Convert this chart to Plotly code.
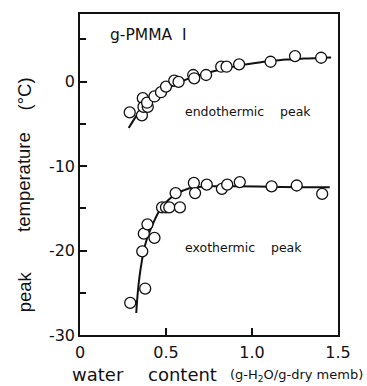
import plotly.graph_objects as go

# endothermic peak data
endo_x = [0.289, 0.365, 0.36, 0.369, 0.394, 0.39, 0.433, 0.471, 0.50, 0.548, 0.573,
          0.658, 0.664, 0.733, 0.821, 0.852, 0.925, 1.108, 1.25, 1.402]
endo_y = [-3.65, -1.96, -4.0, -3.0, -3.0, -2.5, -1.76, -1.26, -0.59, 0.12, -0.04,
          0.78, 0.39, 0.78, 1.76, 1.76, 2.04, 2.35, 3.02, 2.82]
endo_fit_x = [0.283, 0.32, 0.35, 0.40, 0.45, 0.50, 0.60, 0.70, 0.80, 0.90, 1.00, 1.10, 1.20, 1.30, 1.46]
endo_fit_y = [-5.5, -4.3, -3.4, -2.3, -1.5, -0.9, 0.1, 0.8, 1.35, 1.8, 2.15, 2.4, 2.6, 2.72, 2.86]

# exothermic peak data
exo_x = [0.292, 0.362, 0.371, 0.392, 0.433, 0.379, 0.477, 0.50, 0.519, 0.581, 0.556,
         0.662, 0.669, 0.737, 0.825, 0.856, 0.929, 1.114, 1.26, 1.408]
exo_y = [-26.2, -20.1, -18.0, -16.9, -18.5, -24.5, -14.9, -14.9, -14.9, -14.9, -13.2,
         -12.0, -13.2, -12.2, -12.7, -12.2, -11.9, -12.4, -12.3, -13.3]
exo_fit_x = [0.327, 0.335, 0.346, 0.36, 0.375, 0.40, 0.423, 0.45, 0.481, 0.52, 0.558, 0.60, 0.654, 0.75, 0.90, 1.10, 1.30, 1.452]
exo_fit_y = [-27.4, -25.2, -23.1, -21.2, -19.6, -18.0, -16.9, -15.7, -14.7, -13.9, -13.3, -12.9, -12.55, -12.4, -12.4, -12.45, -12.5, -12.5]

x_ticks = [0, 0.5, 1.0, 1.5]
x_labels = ["0", "0.5", "1.0", "1.5"]
y_ticks = [0, -10, -20, -30]
y_labels = ["0", "-10", "-20", "-30"]

WIDE = "DejaVu Sans"
NARROW = "Liberation Sans"
ink = "#111111"

fig = go.Figure()
for fx, fy in [(endo_fit_x, endo_fit_y), (exo_fit_x, exo_fit_y)]:
    fig.add_trace(go.Scatter(x=fx, y=fy, mode="lines", line=dict(color=ink, width=2, shape="spline"),
                             showlegend=False, hoverinfo="skip"))
for px, py in [(endo_x, endo_y), (exo_x, exo_y)]:
    fig.add_trace(go.Scatter(x=px, y=py, mode="markers",
                             marker=dict(symbol="circle", size=11, color="white",
                                         line=dict(color=ink, width=1.3)),
                             showlegend=False))

# in-plot labels
fig.add_annotation(x=0.163, y=5.5, xref="x", yref="y", text="g-PMMA&nbsp;&nbsp;I", showarrow=False,
                   xanchor="left", font=dict(family=WIDE, size=15.5, color=ink))
fig.add_annotation(x=0.60, y=-3.55, xref="x", yref="y", text="endothermic&nbsp;&nbsp;&nbsp;&nbsp;peak", showarrow=False,
                   xanchor="left", font=dict(family=WIDE, size=12.5, color=ink))
fig.add_annotation(x=0.60, y=-19.65, xref="x", yref="y", text="exothermic&nbsp;&nbsp;&nbsp;&nbsp;peak", showarrow=False,
                   xanchor="left", font=dict(family=WIDE, size=12.5, color=ink))

# axis title pieces (paper coords: plot spans x 80..338 px, y 12..335 px)
def px_x(p):
    return (p - 80) / 258.0

def px_y(p):
    return (335 - p) / 323.0

fig.add_annotation(x=px_x(98), y=px_y(375), xref="paper", yref="paper", text="water", showarrow=False,
                   xanchor="center", yanchor="middle", font=dict(family=WIDE, size=18, color=ink))
fig.add_annotation(x=px_x(182), y=px_y(375), xref="paper", yref="paper", text="content", showarrow=False,
                   xanchor="center", yanchor="middle", font=dict(family=WIDE, size=18, color=ink))
fig.add_annotation(x=px_x(296), y=px_y(376), xref="paper", yref="paper",
                   text="(g-H<sub>2</sub>O/g-dry memb)", showarrow=False,
                   xanchor="center", yanchor="middle", font=dict(family=WIDE, size=13, color=ink))

for txt, yc in [("peak", 292), ("temperature", 181), ("(°C)", 93)]:
    fig.add_annotation(x=px_x(24), y=px_y(yc), xref="paper", yref="paper", text=txt, showarrow=False,
                       textangle=-90, xanchor="center", yanchor="middle",
                       font=dict(family=NARROW, size=18.5, color=ink))

fig.update_layout(
    width=367, height=386,
    margin=dict(l=80, r=29, t=12, b=51),
    paper_bgcolor="white", plot_bgcolor="white",
    font=dict(family=WIDE, color=ink),
    xaxis=dict(range=[0, 1.5], tickvals=x_ticks, ticktext=x_labels, ticks="inside", ticklen=7,
               tickwidth=1.5, tickcolor=ink, showgrid=False, zeroline=False,
               showline=True, linecolor=ink, linewidth=1.5, mirror=True,
               ticklabelstandoff=2,
               tickfont=dict(size=16, family=WIDE)),
    yaxis=dict(range=[-30, 8], tickvals=y_ticks, ticktext=y_labels, ticks="inside", ticklen=7,
               tickwidth=1.5, tickcolor=ink, showgrid=False, zeroline=False,
               showline=True, linecolor=ink, linewidth=1.5, mirror=True,
               minor=dict(dtick=5, tick0=0, ticks="inside", ticklen=6, tickwidth=1.5, tickcolor=ink, showgrid=False),
               tickfont=dict(size=16, family=WIDE)),
)

fig.write_html("out.html")
